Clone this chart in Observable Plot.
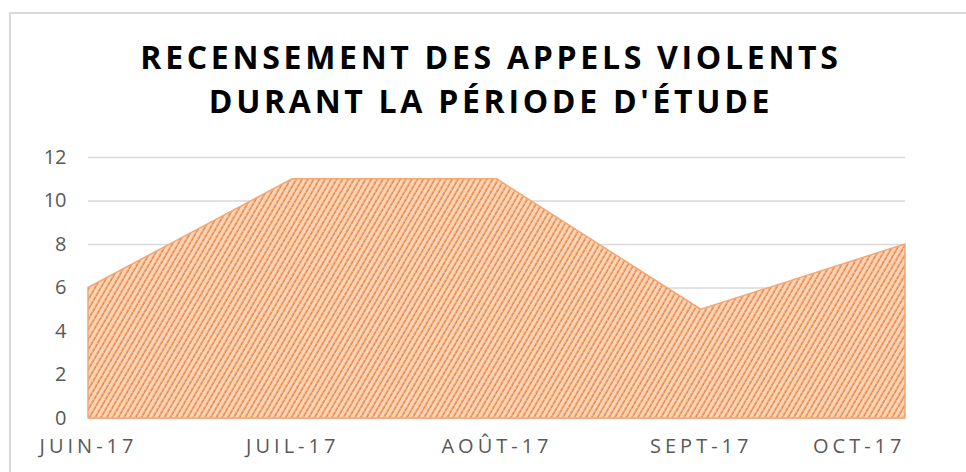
<!DOCTYPE html>
<html>
<head>
<meta charset="utf-8">
<script src="https://cdn.jsdelivr.net/npm/d3@7"></script>
<script src="https://cdn.jsdelivr.net/npm/@observablehq/plot@0.6"></script>
<style>
  html, body { margin: 0; padding: 0; background: #fff; }
  body { width: 966px; height: 472px; overflow: hidden; position: relative; font-family: "Open Sans", sans-serif; }
  #frame { position: absolute; left: 9px; top: 12px; width: 1000px; height: 500px; border: 2px solid #d9d9d9; box-sizing: border-box; }
  #title { position: absolute; left: 8px; top: 35px; width: 966px; text-align: center; font-weight: 700; font-size: 32px; line-height: 44px; letter-spacing: 3.7px; color: #000; }
  #chart { position: absolute; left: 0; top: 140px; }
  #chart svg text { fill: #595959; }
  #chart g[aria-label="x-axis tick label"] text { letter-spacing: 4px; }
</style>
</head>
<body>
<div id="frame"></div>
<div id="title">RECENSEMENT DES APPELS VIOLENTS<br>DURANT LA PÉRIODE D'ÉTUDE</div>
<div id="chart"></div>
<script>
const months = ["JUIN-17", "JUIL-17", "AOÛT-17", "SEPT-17", "OCT-17"];
const calls = [6, 11, 11, 5, 8];
const yTicks = [0, 2, 4, 6, 8, 10, 12];

const data = months.map((m, i) => ({i, month: m, value: calls[i]}));

const chart = Plot.plot({
  width: 966,
  height: 332,
  marginTop: 17,
  marginBottom: 54,
  marginLeft: 88,
  marginRight: 61,
  style: {fontFamily: "'Open Sans', sans-serif", background: "transparent"},
  x: {type: "linear", domain: [0, months.length - 1]},
  y: {domain: [0, 12]},
  marks: [
    Plot.ruleY(yTicks, {stroke: "#d9d9d9", strokeWidth: 1.5}),
    Plot.areaY(data, {x: "i", y: "value", fill: "url(#hatch)", stroke: "#f4a673", strokeWidth: 1.5}),
    Plot.axisY(yTicks, {tickSize: 0, tickPadding: 22, fontSize: 20, label: null}),
    Plot.axisX(d3.range(months.length - 1), {tickSize: 0, tickPadding: 20, fontSize: 20, label: null, tickFormat: i => months[i]}),
    Plot.axisX([months.length - 1], {tickSize: 0, tickPadding: 20, fontSize: 20, label: null, textAnchor: "end", tickFormat: i => months[i]})
  ]
});

const ns = "http://www.w3.org/2000/svg";
const defs = document.createElementNS(ns, "defs");
defs.innerHTML = `<pattern id="hatch" patternUnits="userSpaceOnUse" width="5" height="5" patternTransform="rotate(30)">
  <rect width="5" height="5" fill="#fbd6bb"></rect>
  <line x1="1.2" y1="0" x2="1.2" y2="5" stroke="#ee7f36" stroke-width="1.5" stroke-dasharray="2.2 0.5"></line>
</pattern>`;
chart.insertBefore(defs, chart.firstChild);
document.getElementById("chart").appendChild(chart);
</script>
</body>
</html>
